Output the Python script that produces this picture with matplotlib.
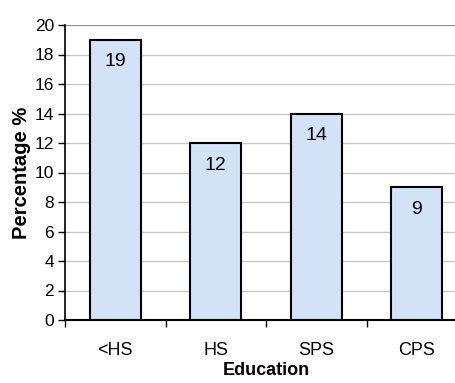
import matplotlib.pyplot as plt
import numpy as np

plt.rcParams['font.family'] = ['Liberation Sans', 'DejaVu Sans']

categories = ['<HS', 'HS', 'SPS', 'CPS']
percentages = [19, 12, 14, 9]
y_ticks = list(range(0, 21, 2))

fig = plt.figure(figsize=(4.55, 3.83), dpi=100)
# axes runs a little past the right edge of the figure
ax = fig.add_axes([65 / 455, 1 - 320 / 383, 402 / 455, 295 / 383])

x = np.arange(len(categories))
bars = ax.bar(x, percentages, width=0.51, color='#d3e3f7',
              edgecolor='black', linewidth=1.5, zorder=3)

# value labels just inside the top of each bar
for rect, val in zip(bars, percentages):
    ax.annotate(str(val), (rect.get_x() + rect.get_width() / 2, val),
                xytext=(0, -22), textcoords='offset pixels',
                ha='center', va='center', fontsize=14, zorder=4)

ax.set_xlim(-0.5, len(categories) - 0.5)
ax.set_ylim(0, 20)
ax.set_yticks(y_ticks)
ax.set_yticklabels([str(t) for t in y_ticks], fontsize=12.5)
ax.yaxis.grid(True, color='#c8c8c8', linewidth=1, zorder=0)
ax.set_axisbelow(True)

ax.set_xticks(x)
ax.set_xticklabels(categories, fontsize=13)
ax.set_xticks(np.arange(-0.5, len(categories), 1), minor=True)
ax.tick_params(axis='x', which='major', length=0, pad=16)
ax.tick_params(axis='x', which='minor', length=5, width=1, direction='out')
ax.tick_params(axis='y', length=5, width=1, direction='out', pad=3)

for side in ['top', 'right']:
    ax.spines[side].set_visible(False)
ax.spines['left'].set_linewidth(1.2)
ax.spines['bottom'].set_linewidth(1.5)
ax.axhline(20, color='#808080', linewidth=1.2, zorder=1)

ax.set_xlabel('Education', fontsize=13, fontweight='bold', labelpad=2)
ax.set_ylabel('Percentage %', fontsize=14.5, fontweight='bold')
ax.yaxis.set_label_coords(-0.085, 0.5)

fig.savefig('out.png', dpi=100)
